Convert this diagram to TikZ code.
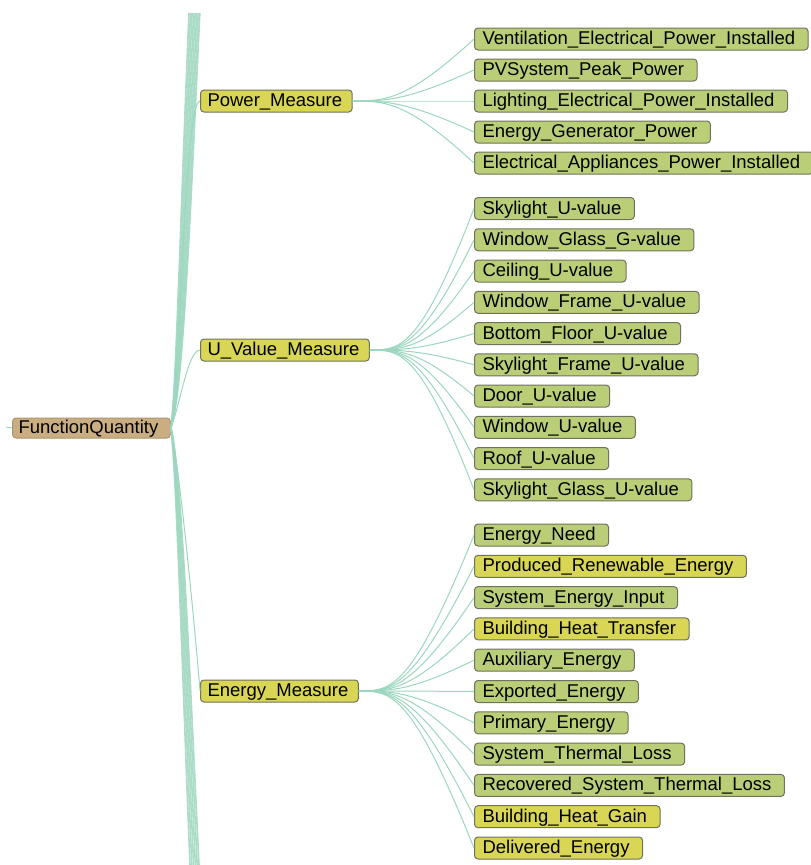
\documentclass[tikz,border=0pt]{standalone}
\usepackage{fontspec}
\setmainfont{Liberation Sans}
\usetikzlibrary{calc}
\definecolor{leafgreen}{RGB}{186,206,120}
\definecolor{measyellow}{RGB}{216,214,84}
\definecolor{roottan}{RGB}{202,174,130}
\definecolor{boxline}{RGB}{112,114,92}
\definecolor{edgemint}{RGB}{156,214,190}
\tikzset{
  box/.style={draw=boxline, line width=1pt, rounded corners=3.5pt, anchor=west,
    inner xsep=0pt, inner ysep=2pt, text height=14.5pt, text depth=3.5pt,
    font=\fontsize{18.5}{20}\selectfont, text=black},
  leafpad/.style={execute at begin node={\hspace*{8pt}}, execute at end node={\hspace*{13pt}}},
  leaf/.style={box, leafpad, fill=leafgreen},
  leafy/.style={box, leafpad, fill=measyellow},
  meas/.style={box, fill=measyellow, execute at begin node={\hspace*{7pt}}, execute at end node={\hspace*{10pt}}},
  root/.style={box, fill=roottan, draw=roottan!85!black, inner ysep=1pt,
    execute at begin node={\hspace*{6pt}}, execute at end node={\hspace*{12pt}}},
  edge/.style={draw=edgemint, line width=1pt},
  band/.style={draw=edgemint, line width=1.6pt, opacity=0.85},
}
\begin{document}
\begin{tikzpicture}[x=1pt,y=-1pt]
\useasboundingbox (0,0) rectangle (811,865);

% root and measures
\node[root] (fq) at (12,428) {FunctionQuantity};
\node[meas] (pm) at (200,101) {Power\_Measure};
\node[meas] (um) at (200,350) {U\_Value\_Measure};
\node[meas] (em) at (200,691) {Energy\_Measure};

% power leaves
\node[leaf] (p1) at (474,39)  {Ventilation\_Electrical\_Power\_Installed};
\node[leaf] (p2) at (474,70)  {PVSystem\_Peak\_Power};
\node[leaf] (p3) at (474,101) {Lighting\_Electrical\_Power\_Installed};
\node[leaf] (p4) at (474,132) {Energy\_Generator\_Power};
\node[leaf] (p5) at (474,163) {Electrical\_Appliances\_Power\_Installed};

% U value leaves
\node[leaf] (u1)  at (474,208.5) {Skylight\_U-value};
\node[leaf] (u2)  at (474,239.75) {Window\_Glass\_G-value};
\node[leaf] (u3)  at (474,271) {Ceiling\_U-value};
\node[leaf] (u4)  at (474,302.25) {Window\_Frame\_U-value};
\node[leaf] (u5)  at (474,333.5) {Bottom\_Floor\_U-value};
\node[leaf] (u6)  at (474,364.75) {Skylight\_Frame\_U-value};
\node[leaf] (u7)  at (474,396) {Door\_U-value};
\node[leaf] (u8)  at (474,427.25) {Window\_U-value};
\node[leaf] (u9)  at (474,458.5) {Roof\_U-value};
\node[leaf] (u10) at (474,489.75) {Skylight\_Glass\_U-value};

% energy leaves
\node[leaf]  (e1)  at (474,535)   {Energy\_Need};
\node[leafy] (e2)  at (474,566.3) {Produced\_Renewable\_Energy};
\node[leaf]  (e3)  at (474,597.6) {System\_Energy\_Input};
\node[leafy] (e4)  at (474,628.9) {Building\_Heat\_Transfer};
\node[leaf]  (e5)  at (474,660.2) {Auxiliary\_Energy};
\node[leaf]  (e6)  at (474,691.5) {Exported\_Energy};
\node[leaf]  (e7)  at (474,722.8) {Primary\_Energy};
\node[leaf]  (e8)  at (474,754.1) {System\_Thermal\_Loss};
\node[leaf]  (e9)  at (474,785.4) {Recovered\_System\_Thermal\_Loss};
\node[leafy] (e10) at (474,816.7) {Building\_Heat\_Gain};
\node[leafy] (e11) at (474,848)   {Delivered\_Energy};

% free ends of edges to nodes outside the view
\foreach \i in {0,...,7} {
  \coordinate (t\i) at ({189+\i*1.55},13);
}
\foreach \i in {0,...,5} {
  \coordinate (b\i) at ({190+\i*1.8},865);
}
\coordinate (fqpar) at (6,427);

% bundle from FunctionQuantity
\foreach \i in {0,...,7} {
  \draw[band] (fq.east) .. controls ({176+\i*1.1},392) and ({181+\i*1.4},200) .. (t\i);
}
\foreach \i in {0,...,5} {
  \draw[band] (fq.east) .. controls ({176+\i*1.1},465) and ({183+\i*1.5},690) .. (b\i);
}
\draw[edge] (fq.east) .. controls (180,390) and (184,101) .. (pm.west);
\draw[edge] (fq.east) .. controls (180,405) and (188,350) .. (um.west);
\draw[edge] (fq.east) .. controls (180,470) and (196,640) .. (em.west);
\draw[edge] (fq.west) -- (fqpar);

% measure fans
\foreach \n in {p1,p2,p3,p4,p5} {
  \draw[edge] (pm.east) .. controls ($(pm.east)+(32,0)$) and ($(pm.east)+(54,0)$) .. (\n.west);
}
\foreach \n in {u1,u2,u3,u4,u5,u6,u7,u8,u9,u10} {
  \draw[edge] (um.east) .. controls ($(um.east)+(30,0)$) and ($(um.east)+(50,0)$) .. (\n.west);
}
\foreach \n in {e1,e2,e3,e4,e5,e6,e7,e8,e9,e10,e11} {
  \draw[edge] (em.east) .. controls ($(em.east)+(32,0)$) and ($(em.east)+(52,0)$) .. (\n.west);
}

% redraw nodes on top of connectors
\end{tikzpicture}
\end{document}
